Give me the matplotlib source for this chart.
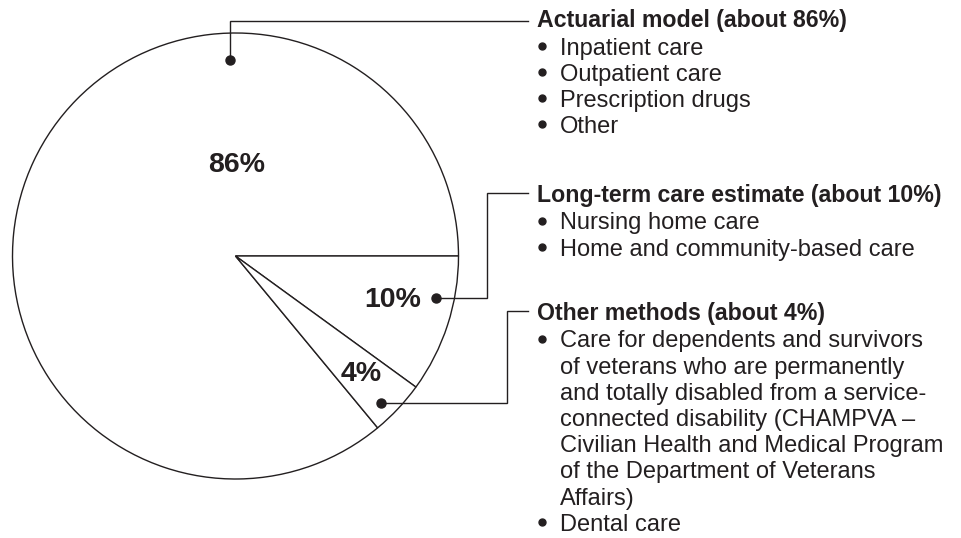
import numpy as np
from matplotlib import pyplot as plt

plt.rcParams["font.family"] = ["Liberation Sans", "DejaVu Sans"]

# data
methods = ["Actuarial model", "Long-term care estimate", "Other methods"]
shares = [86, 10, 4]
pct_labels = ["86%", "10%", "4%"]
items = [
    ["Inpatient care", "Outpatient care", "Prescription drugs", "Other"],
    ["Nursing home care", "Home and community-based care"],
    ["Care for dependents and survivors\nof veterans who are permanently\n"
     "and totally disabled from a service-\nconnected disability (CHAMPVA \u2013\n"
     "Civilian Health and Medical Program\nof the Department of Veterans\nAffairs)",
     "Dental care"],
]

W, H = 962, 538
ink = "#231f20"

fig = plt.figure(figsize=(W / 100, H / 100), dpi=100)
ax = fig.add_axes([0, 0, 1, 1])


def py(y):
    # pixel row (from top) -> data y
    return H - y


# pie, 86% slice runs counterclockwise from 3 o'clock
ax.pie(shares, radius=223, center=(235.5, py(256)), counterclock=False,
       startangle=360 * shares[0] / 100,
       wedgeprops=dict(facecolor="white", edgecolor=ink, linewidth=1.0))
ax.set_xlim(0, W)
ax.set_ylim(0, H)
ax.set_aspect("auto")
ax.axis("off")

# percentage labels
label_pos = [(237, 165), (393, 300), (361, 374)]
for (x, y), t in zip(label_pos, pct_labels):
    ax.text(x, py(y), t, ha="center", va="center", fontsize=20.5,
            fontweight="bold", color=ink)

# leader lines with dots
leaders = [
    [(230, 60), (230, 21), (528, 21)],
    [(436, 298), (487, 298), (487, 193), (528, 193)],
    [(381, 403), (507, 403), (507, 311), (528, 311)],
]
for path in leaders:
    xs = [p[0] for p in path]
    ys = [py(p[1]) for p in path]
    ax.plot(xs, ys, color=ink, linewidth=1.0, solid_joinstyle="miter")
    ax.plot(xs[0], ys[0], "o", color=ink, markersize=6.5)

# text blocks
header_base = [27, 202, 320]
line_h = 26.2
for name, share, base, lst in zip(methods, shares, header_base, items):
    ax.text(537, py(base), f"{name} (about {share}%)", ha="left",
            va="baseline", fontsize=16.7, fontweight="bold", color=ink)
    y = base + 27.5
    for it in lst:
        ax.plot(542, py(y - 9), "o", color=ink, markersize=5)
        for part in it.split("\n"):
            ax.text(560, py(y), part, ha="left", va="baseline", fontsize=17,
                    color=ink)
            y += line_h

fig.savefig("out.png", dpi=100)
